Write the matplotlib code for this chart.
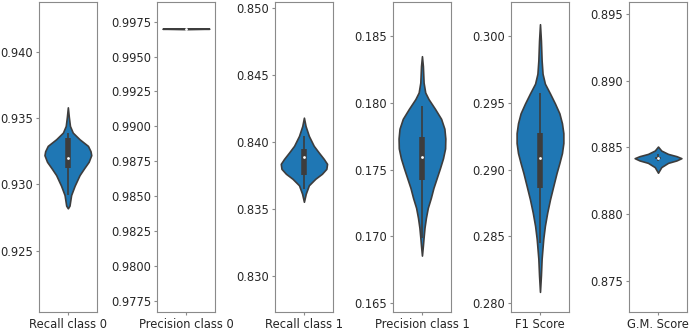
import numpy as np
import matplotlib.pyplot as plt
from matplotlib.ticker import MultipleLocator, FormatStrFormatter

names = ['Recall class 0', 'Precision class 0', 'Recall class 1',
         'Precision class 1', 'F1 Score', 'G.M. Score']

# violin outlines: value -> relative half width (1 = widest)
recall0_vals = [0.9358, 0.9351, 0.9344, 0.9339, 0.9334, 0.9329, 0.9325, 0.9322,
                0.9317, 0.9312, 0.9307, 0.9299, 0.9292, 0.9284, 0.9282]
recall0_width = [0, 0.04, 0.09, 0.21, 0.5, 0.86, 0.97, 1.0,
                 0.89, 0.69, 0.5, 0.29, 0.14, 0.07, 0]

prec0_vals = [0.99703, 0.99700, 0.99697]
prec0_width = [0, 1.0, 0]

recall1_vals = [0.84180, 0.84118, 0.84044, 0.83970, 0.83921, 0.83872, 0.83835,
                0.83798, 0.83761, 0.83724, 0.83675, 0.83613, 0.83552]
recall1_width = [0, 0.07, 0.21, 0.42, 0.63, 0.85, 0.99, 0.96, 0.77, 0.49, 0.21, 0.08, 0]

prec1_vals = [0.18347, 0.18273, 0.18150, 0.18076, 0.18027, 0.17953, 0.17879,
              0.17805, 0.17732, 0.17658, 0.17584, 0.17510, 0.17436, 0.17362,
              0.17288, 0.17214, 0.17140, 0.17067, 0.16993, 0.16931, 0.16857]
prec1_width = [0, 0.04, 0.07, 0.14, 0.28, 0.56, 0.82, 0.96, 1.0, 0.99, 0.9,
               0.77, 0.63, 0.49, 0.38, 0.25, 0.17, 0.11, 0.07, 0.04, 0]

f1_vals = [0.30086, 0.29963, 0.29815, 0.29716, 0.29642, 0.29568, 0.29494, 0.29420,
           0.29346, 0.29272, 0.29198, 0.29123, 0.29049, 0.28975, 0.28877, 0.28778,
           0.28679, 0.28580, 0.28481, 0.28333, 0.28210, 0.28086]
f1_width = [0, 0.04, 0.07, 0.11, 0.21, 0.43, 0.64, 0.83, 0.94, 1.0, 1.0, 0.94,
            0.83, 0.71, 0.57, 0.43, 0.31, 0.21, 0.14, 0.07, 0.04, 0]

gm_vals = [0.88505, 0.88475, 0.88450, 0.88433, 0.88418, 0.88401, 0.88383, 0.88351, 0.88309]
gm_width = [0, 0.14, 0.43, 0.79, 1.0, 0.79, 0.43, 0.14, 0]

# box stats: whisker low, q1, median, q3, whisker high
recall0_box = [0.9292, 0.9312, 0.9320, 0.93353, 0.9339]
prec0_box = [0.99700, 0.99700, 0.99700, 0.99700, 0.99700]
recall1_box = [0.8365, 0.83749, 0.83884, 0.83946, 0.8404]
prec1_box = [0.1699, 0.17424, 0.17596, 0.17744, 0.17978]
f1_box = [0.2845, 0.28864, 0.29086, 0.29272, 0.2957]
gm_box = [0.88395, 0.8841, 0.8842, 0.8843, 0.8845]

ylims = [(0.92037, 0.94373), (0.97665, 0.99892), (0.82726, 0.85044),
         (0.16433, 0.18752), (0.27933, 0.30252), (0.87262, 0.89589)]
steps = [0.005, 0.0025, 0.005, 0.005, 0.005, 0.005]
fmts = ['%.3f', '%.4f', '%.3f', '%.3f', '%.3f', '%.3f']

violins = [(recall0_vals, recall0_width, recall0_box),
           (prec0_vals, prec0_width, prec0_box),
           (recall1_vals, recall1_width, recall1_box),
           (prec1_vals, prec1_width, prec1_box),
           (f1_vals, f1_width, f1_box),
           (gm_vals, gm_width, gm_box)]

blue = '#1f77b4'
gray = '#3d3d3d'


def DrawViolin(ax, vals, width, box):
    hw = 0.4 * np.array(width)
    ax.fill_betweenx(vals, -hw, hw, facecolor=blue, edgecolor=gray, linewidth=1.2, zorder=1)
    ax.vlines(0, box[0], box[4], color=gray, linewidth=1.2, zorder=2)
    ax.vlines(0, box[1], box[3], color=gray, linewidth=4, zorder=2)
    ax.scatter([0], [box[2]], s=4, color='white', zorder=3, linewidths=0)


fig, axes = plt.subplots(1, 6, figsize=(6.9, 3.33), dpi=100)
plt.subplots_adjust(left=0.056, right=0.996, bottom=0.062, top=0.994, wspace=1.02)

for i, ax in enumerate(axes):
    vals, width, box = violins[i]
    DrawViolin(ax, vals, width, box)
    ax.set_xlim(-0.5, 0.5)
    ax.set_ylim(*ylims[i])
    ax.set_xticks([0])
    ax.set_xticklabels([names[i]])
    ax.yaxis.set_major_locator(MultipleLocator(steps[i]))
    ax.yaxis.set_major_formatter(FormatStrFormatter(fmts[i]))
    ax.tick_params(labelsize=8.3, colors='#8a8a8a', labelcolor='#262626', length=2.5, pad=1.5)
    for s in ax.spines.values():
        s.set_color('#8a8a8a')

plt.savefig('out.png')
